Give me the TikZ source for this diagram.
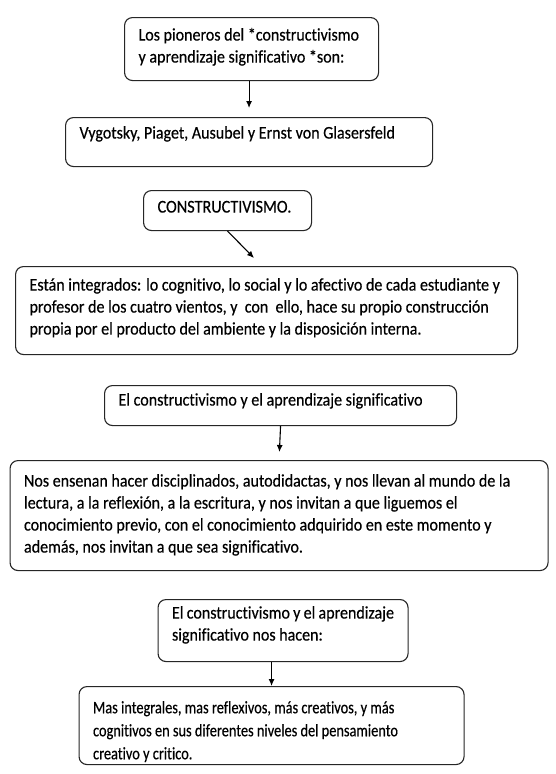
\documentclass[tikz,border=0pt]{standalone}
\usepackage{fontspec}
\setmainfont{Carlito}[Ligatures=NoCommon,FakeStretch=0.9,FakeBold=0.4]
\newfontfamily\estrecha{Carlito}[Ligatures=NoCommon,FakeStretch=0.82,FakeBold=0.4]
\usetikzlibrary{arrows.meta}

\newcommand{\cajatexto}[4]{\parbox[t][#2][t]{#1}{\raggedright\vspace*{#3}\strut #4}}

\begin{document}
\begin{tikzpicture}[x=1pt,y=-1pt,->,>={Latex[length=7pt,width=6pt]},thick,
    caja/.style={draw=black!85,line width=1.1pt,rounded corners=8pt,anchor=north west,inner xsep=14pt,inner ysep=0pt,font=\fontsize{17.8}{22}\selectfont},
    flecha/.style={->,line width=1.1pt}]

            \useasboundingbox[fill=white] (0,0) rectangle (555,774);

            \node[caja] (pioneros) at (124,17) {\cajatexto{226pt}{63pt}{7.6pt}{Los pioneros del *constructivismo\\ y aprendizaje significativo *son:}};
            \node[caja] (autores) at (65,117) {\cajatexto{339pt}{49pt}{5.6pt}{Vygotsky, Piaget, Ausubel y Ernst von Glasersfeld}};
            \node[caja,font=\fontsize{18}{22}\selectfont] (constructivismo) at (143,190) {\cajatexto{140pt}{40pt}{6.6pt}{CONSTRUCTIVISMO.}};
            \node[caja] (integrados) at (15,266) {\cajatexto{474pt}{88pt}{8.6pt}{Están integrados: lo cognitivo, lo social y lo afectivo de cada estudiante y\\ profesor de los cuatro vientos, y\ \ con\ \ ello, hace su propio construcción\\ propia por el producto del ambiente y la disposición interna.}};
            \node[caja] (relacion) at (104,385) {\cajatexto{324pt}{40pt}{4.6pt}{El constructivismo y el aprendizaje significativo}};
            \node[caja] (ensenan) at (9.5,460) {\cajatexto{510pt}{110pt}{10.6pt}{Nos ensenan hacer disciplinados, autodidactas, y nos llevan al mundo de la\\ lectura, a la reflexión, a la escritura, y nos invitan a que liguemos el\\ conocimiento previo, con el conocimiento adquirido en este momento y\\ además, nos invitan a que sea significativo.}};
            \node[caja] (hacen) at (157.5,599) {\cajatexto{222pt}{62pt}{3.6pt}{El constructivismo y el aprendizaje\\ significativo nos hacen:}};
            \node[caja,font=\estrecha\fontsize{17.5}{23}\selectfont] (resultado) at (78.5,686) {\cajatexto{357pt}{78pt}{10.6pt}{Mas integrales, mas reflexivos, más creativos, y más\\ cognitivos en sus diferentes niveles del pensamiento\\ creativo y critico.}};

            \coordinate (fin) at (254,258);

            \draw[flecha, shorten >=9pt] (autores.north |- pioneros.south) to (autores.north);
            \draw[flecha] (constructivismo.south) to (fin);
            \draw[flecha, shorten >=8pt] (relacion.south) to (ensenan.north);
            \draw[flecha] (hacen.south -| resultado.north) to (resultado.north);

        \end{tikzpicture}
\end{document}
